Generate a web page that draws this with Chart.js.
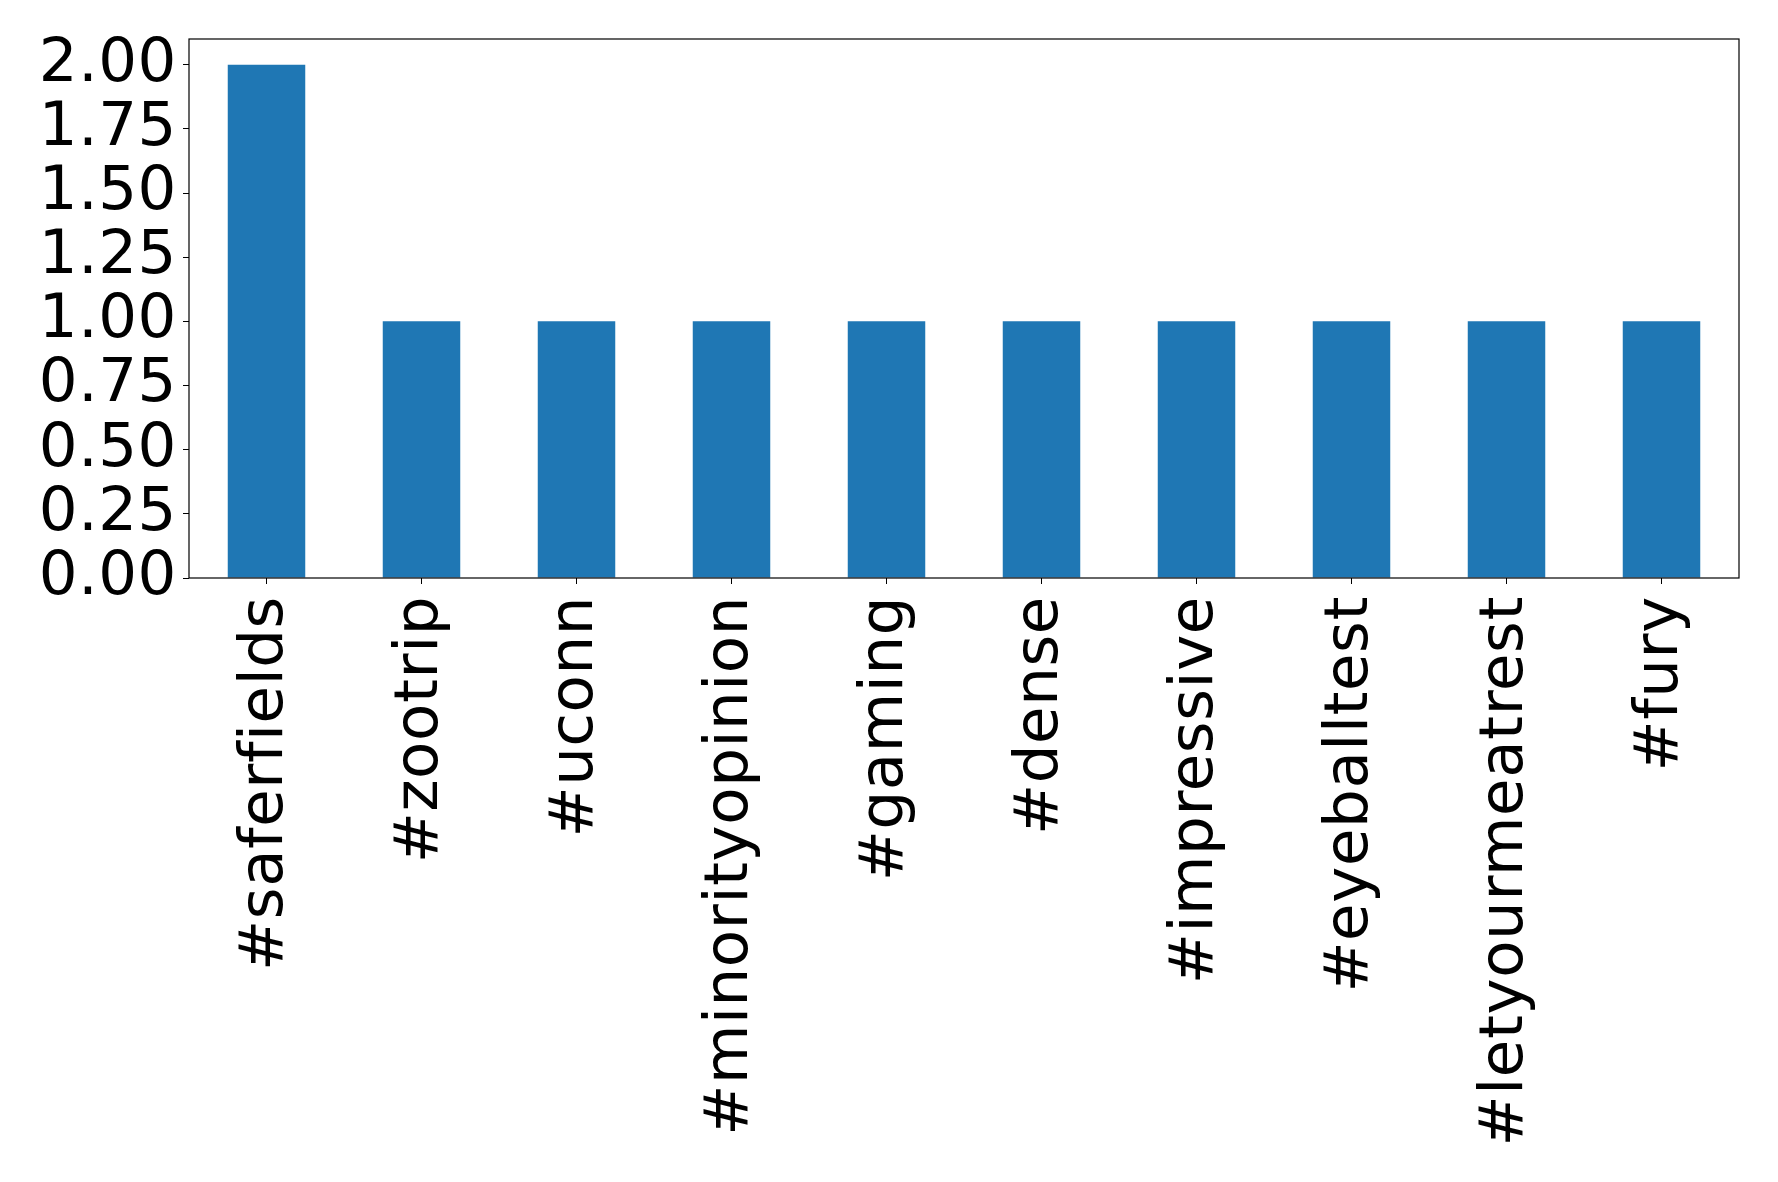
<!DOCTYPE html>
<html>
<head>
<meta charset="utf-8">
<script src="https://cdn.jsdelivr.net/npm/chart.js@4"></script>
<style>
  html, body { margin: 0; padding: 0; background: #fff; }
  #wrap { width: 1778px; height: 1182px; }
</style>
</head>
<body>
<div id="wrap"><canvas id="chart" width="1778" height="1182"></canvas></div>
<script>
const hashtags = ['#saferfields', '#zootrip', '#uconn', '#minorityopinion', '#gaming',
                  '#dense', '#impressive', '#eyeballtest', '#letyourmeatrest', '#fury'];
const counts = [2, 1, 1, 1, 1, 1, 1, 1, 1, 1];
const yTicks = [0, 0.25, 0.5, 0.75, 1, 1.25, 1.5, 1.75, 2];

const FONT = { family: 'DejaVu Sans', size: 61, lineHeight: 1 };

// matplotlib does not join "fi", a little letter spacing keeps them apart
const spacing = {
    id: 'spacing',
    beforeDraw(chart) { chart.ctx.letterSpacing = '0.6px'; }
};

// draws the axes box (top and right edges too, like matplotlib)
const frame = {
    id: 'frame',
    afterDatasetsDraw(chart) {
        const { ctx, chartArea: a } = chart;
        ctx.save();
        ctx.strokeStyle = '#000';
        ctx.lineWidth = 1.2;
        ctx.strokeRect(a.left, a.top, a.right - a.left, a.bottom - a.top);
        ctx.restore();
    }
};

new Chart(document.getElementById('chart'), {
    type: 'bar',
    data: {
        labels: hashtags,
        datasets: [{ data: counts, backgroundColor: '#1f77b4', borderWidth: 0,
                     barPercentage: 0.5, categoryPercentage: 1 }]
    },
    options: {
        responsive: false,
        animation: false,
        layout: { padding: { top: 39, right: 39, left: 0, bottom: 0 } },
        plugins: { legend: { display: false }, tooltip: { enabled: false } },
        scales: {
            x: {
                offset: true,
                grid: { display: true, drawOnChartArea: false, color: '#000', tickLength: 6, offset: false },
                border: { display: false },
                ticks: { color: '#000', font: FONT, minRotation: 90, maxRotation: 90, padding: 12, autoSkip: false },
                afterFit(scale) { scale.height = 604; }
            },
            y: {
                min: 0,
                max: 2.1,
                grid: { display: true, drawOnChartArea: false, color: '#000', tickLength: 6 },
                border: { display: false },
                ticks: { color: '#000', font: FONT, padding: 6, autoSkip: false,
                         callback: v => v.toFixed(2) },
                afterBuildTicks(scale) { scale.ticks = yTicks.map(v => ({ value: v })); },
                afterFit(scale) { scale.width = 189; }
            }
        }
    },
    plugins: [spacing, frame]
});
</script>
</body>
</html>
